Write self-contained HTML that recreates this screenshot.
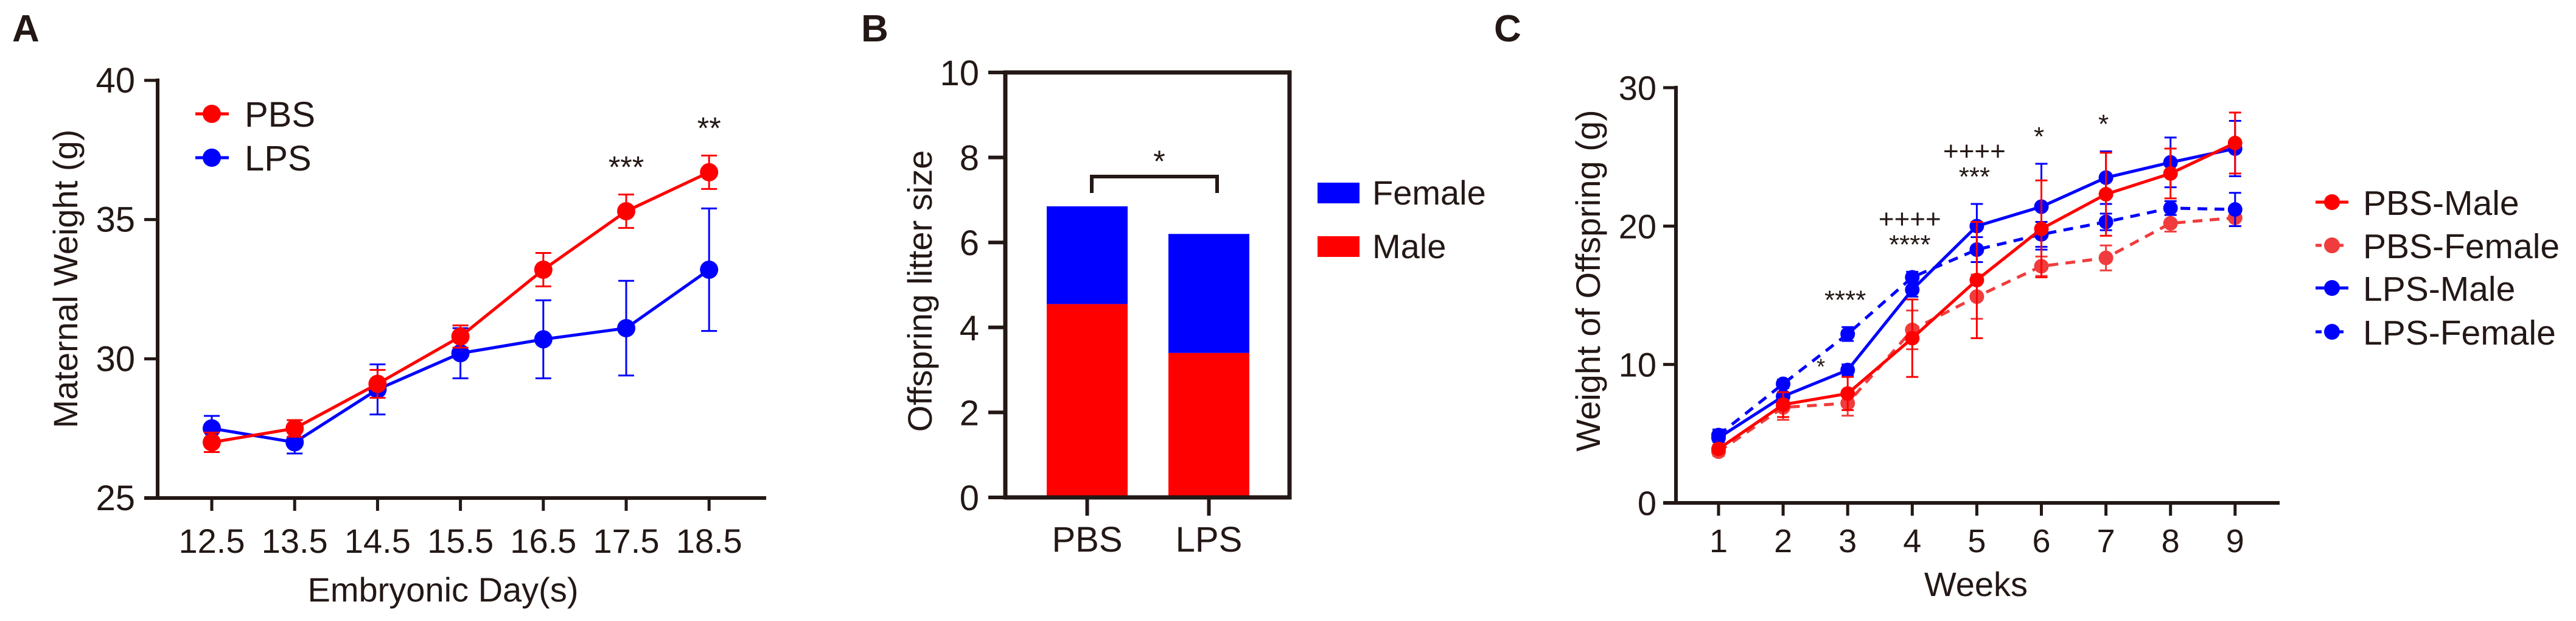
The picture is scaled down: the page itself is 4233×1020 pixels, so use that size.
<!DOCTYPE html>
<html><head><meta charset="utf-8"><style>
html,body{margin:0;padding:0;background:#fff;}
svg{display:block;font-family:"Liberation Sans",Arial,sans-serif;}
</style></head><body>
<svg id="fig" width="4233" height="1020" viewBox="0 0 4233 1020" xmlns="http://www.w3.org/2000/svg">
<text x="20" y="68" font-size="62" font-weight="bold" fill="#231815">A</text>
<text x="1415" y="68" font-size="62" font-weight="bold" fill="#231815">B</text>
<text x="2455" y="68" font-size="62" font-weight="bold" fill="#231815">C</text>
<g id="pa"></g>
<g id="pb"></g>
<g id="pc"></g>
</svg>
<script>
// Panel A data
const aDays = ["12.5","13.5","14.5","15.5","16.5","17.5","18.5"];
const aPBS = [27.0,27.5,29.1,30.8,33.2,35.3,36.7];
const aPBSErr = [0.35,0.3,0.5,0.4,0.6,0.6,0.6];
const aLPS = [27.5,27.0,28.9,30.2,30.7,31.1,33.2];
const aLPSErr = [0.45,0.4,0.9,0.9,1.4,1.7,2.2];
const aYTicks = [25,30,35,40];
const aSig = ["","","","","","***","**"];
// Panel B data
const bGroups = ["PBS","LPS"];
const bMale = [4.55,3.4];
const bFemale = [2.3,2.8];
const bYTicks = [0,2,4,6,8,10];
// Panel C data
const cWeeks = ["1","2","3","4","5","6","7","8","9"];
const cPBSMale = [3.9,7.1,7.9,11.9,16.1,19.8,22.3,23.8,26.0];
const cPBSMaleErr = [0.3,0.9,1.2,2.8,4.2,3.5,3.0,1.8,2.2];
const cPBSFemale = [3.7,6.9,7.2,12.5,14.9,17.1,17.7,20.2,20.6];
const cPBSFemaleErr = [0.3,0.9,0.9,1.4,1.6,0.7,0.9,0.6,0.6];
const cLPSMale = [4.7,7.7,9.6,15.4,20.0,21.4,23.5,24.6,25.6];
const cLPSMaleErr = [0.3,0.3,0.4,0.5,1.6,3.1,1.9,1.8,2.0];
const cLPSFemale = [4.9,8.6,12.2,16.3,18.3,19.4,20.3,21.3,21.2];
const cLPSFemaleErr = [0.4,0.3,0.5,0.4,0.9,0.9,0.6,0.5,1.2];
const cYTicks = [0,10,20,30];
const cSigStar = ["","","****","****","***","*","*","",""];
const cSigPlus = ["","","","++++","++++","","","",""];

const NS="http://www.w3.org/2000/svg";
function mk(parent,tag,attrs,text){const e=document.createElementNS(NS,tag);for(const k in attrs)e.setAttribute(k,attrs[k]);if(text!==undefined)e.textContent=text;parent.appendChild(e);return e;}
const TXT="#231815";

// ---------- Panel A ----------
(function(){
const g=document.getElementById('pa');
const x0=259,yT=132,yB=818,vmin=25,vmax=40;
const y=v=>yB-(v-vmin)/(vmax-vmin)*(yB-yT);
const x=i=>348+i*136.2;
let e;
e=mk(g,'line',{x1:x0,y1:yT-3,x2:x0,y2:yB+3,stroke:TXT,'stroke-width':6});

e=mk(g,'line',{x1:237,y1:yB,x2:1259,y2:yB,stroke:TXT,'stroke-width':6});

aYTicks.forEach(v=>{
 mk(g,'line',{x1:237,y1:y(v),x2:x0,y2:y(v),stroke:TXT,'stroke-width':5});
 e=mk(g,'text',{x:222,y:y(v)+20,'font-size':58,'text-anchor':'end',fill:TXT},String(v));
 
});
aDays.forEach((d,i)=>{
 mk(g,'line',{x1:x(i),y1:yB,x2:x(i),y2:839,stroke:TXT,'stroke-width':5});
 e=mk(g,'text',{x:x(i),y:908,'font-size':56,'text-anchor':'middle',fill:TXT},d);
 
});
e=mk(g,'text',{x:728,y:988,'font-size':56,'text-anchor':'middle',fill:TXT},'Embryonic Day(s)');

e=mk(g,'text',{x:0,y:0,'font-size':56,'text-anchor':'middle',fill:TXT,transform:'translate(127,458) rotate(-90)'},'Maternal Weight (g)');

function series(vals,errs,col,name){
 const pts=vals.map((v,i)=>x(i)+','+y(v)).join(' ');
 e=mk(g,'polyline',{points:pts,fill:'none',stroke:col,'stroke-width':5});
 
 vals.forEach((v,i)=>{
  const t=y(v+errs[i]),b=y(v-errs[i]);
  mk(g,'line',{x1:x(i),y1:t,x2:x(i),y2:b,stroke:col,'stroke-width':3});
  mk(g,'line',{x1:x(i)-13,y1:t,x2:x(i)+13,y2:t,stroke:col,'stroke-width':3});
  mk(g,'line',{x1:x(i)-13,y1:b,x2:x(i)+13,y2:b,stroke:col,'stroke-width':3});
  e=mk(g,'circle',{cx:x(i),cy:y(v),r:15,fill:col});
  
 });
}
series(aLPS,aLPSErr,'#0000ff','a-lps');
series(aPBS,aPBSErr,'#ff0000','a-pbs');
aSig.forEach((s,i)=>{ if(!s)return;
 const top=Math.max(aPBS[i]+aPBSErr[i],aLPS[i]+aLPSErr[i]);
 e=mk(g,'text',{x:x(i),y:y(top)-28,'font-size':50,'text-anchor':'middle',fill:TXT},s);
 
});
[['PBS','#ff0000',187],['LPS','#0000ff',259]].forEach(([l,c,yy])=>{
 e=mk(g,'g',{});
 mk(e,'line',{x1:321,y1:yy,x2:376,y2:yy,stroke:c,'stroke-width':5});
 mk(e,'circle',{cx:348,cy:yy,r:15,fill:c});
 mk(e,'text',{x:402,y:yy+21,'font-size':58,fill:TXT},l);
});
})();

// ---------- Panel B ----------
(function(){
const g=document.getElementById('pb');
const xL=1652,xR=2119,yT=119,yB=817;
const y=v=>yB-v/10*(yB-yT);
const bx=[1720,1920],bw=133;
let e;
bGroups.forEach((n,i)=>{
 e=mk(g,'rect',{x:bx[i],y:y(bMale[i]),width:bw,height:yB-y(bMale[i]),fill:'#ff0000'});
 
 const tot=bMale[i]+bFemale[i];
 e=mk(g,'rect',{x:bx[i],y:y(tot),width:bw,height:y(bMale[i])-y(tot),fill:'#0000ff'});
 
 mk(g,'line',{x1:bx[i]+bw/2,y1:yB,x2:bx[i]+bw/2,y2:847,stroke:TXT,'stroke-width':6});
 e=mk(g,'text',{x:bx[i]+bw/2,y:906,'font-size':58,'text-anchor':'middle',fill:TXT},n);
 
});
e=mk(g,'rect',{x:xL,y:yT,width:xR-xL,height:yB-yT,fill:'none',stroke:TXT,'stroke-width':7});

bYTicks.forEach(v=>{
 mk(g,'line',{x1:1624,y1:y(v),x2:xL,y2:y(v),stroke:TXT,'stroke-width':6});
 e=mk(g,'text',{x:1609,y:y(v)+21,'font-size':58,'text-anchor':'end',fill:TXT},String(v));
 
});
e=mk(g,'text',{x:0,y:0,'font-size':56,'text-anchor':'middle',fill:TXT,transform:'translate(1531,478) rotate(-90)'},'Offspring litter size');

const by=y(Math.max(bMale[0]+bFemale[0],bMale[1]+bFemale[1])+0.7);
e=mk(g,'polyline',{points:`1794,317 1794,${by} 2000,${by} 2000,317`,fill:'none',stroke:TXT,'stroke-width':6});

e=mk(g,'text',{x:1905,y:by-8,'font-size':50,'text-anchor':'middle',fill:TXT},'*');

[['Female','#0000ff',300],['Male','#ff0000',388]].forEach(([l,c,yy])=>{
 e=mk(g,'g',{});
 mk(e,'rect',{x:2165,y:yy,width:69,height:34,fill:c});
 mk(e,'text',{x:2255,y:yy+36,'font-size':56,fill:TXT},l);
});
})();

// ---------- Panel C ----------
(function(){
const g=document.getElementById('pc');
const x0=2754,yT=144,yB=826;
const y=v=>yB-v/30*(yB-yT);
const x=i=>2824+i*106.1;
let e;
e=mk(g,'line',{x1:x0,y1:yT-3,x2:x0,y2:yB+3,stroke:TXT,'stroke-width':6});

e=mk(g,'line',{x1:2733,y1:yB,x2:3746,y2:yB,stroke:TXT,'stroke-width':6});

cYTicks.forEach(v=>{
 mk(g,'line',{x1:2733,y1:y(v),x2:x0,y2:y(v),stroke:TXT,'stroke-width':5});
 e=mk(g,'text',{x:2722,y:y(v)+20,'font-size':56,'text-anchor':'end',fill:TXT},String(v));
 
});
cWeeks.forEach((w,i)=>{
 mk(g,'line',{x1:x(i),y1:yB,x2:x(i),y2:847,stroke:TXT,'stroke-width':5});
 e=mk(g,'text',{x:x(i),y:907,'font-size':54,'text-anchor':'middle',fill:TXT},w);
 
});
e=mk(g,'text',{x:3247,y:979,'font-size':56,'text-anchor':'middle',fill:TXT},'Weeks');

e=mk(g,'text',{x:0,y:0,'font-size':56,'text-anchor':'middle',fill:TXT,transform:'translate(2629,461) rotate(-90)'},'Weight of Offspring (g)');

function series(vals,errs,col,dash,name){
 const pts=vals.map((v,i)=>x(i)+','+y(v)).join(' ');
 const a={points:pts,fill:'none',stroke:col,'stroke-width':5};
 if(dash)a['stroke-dasharray']='16,12';
 e=mk(g,'polyline',a);
 
 vals.forEach((v,i)=>{
  const t=y(v+errs[i]),b=y(v-errs[i]);
  mk(g,'line',{x1:x(i),y1:t,x2:x(i),y2:b,stroke:col,'stroke-width':3});
  mk(g,'line',{x1:x(i)-10,y1:t,x2:x(i)+10,y2:t,stroke:col,'stroke-width':3});
  mk(g,'line',{x1:x(i)-10,y1:b,x2:x(i)+10,y2:b,stroke:col,'stroke-width':3});
  e=mk(g,'circle',{cx:x(i),cy:y(v),r:12,fill:col});
  
 });
}
series(cPBSFemale,cPBSFemaleErr,'#f03c3c',true,'c-pbs-female');
series(cLPSFemale,cLPSFemaleErr,'#0000ff',true,'c-lps-female');
series(cLPSMale,cLPSMaleErr,'#0000ff',false,'c-lps-male');
series(cPBSMale,cPBSMaleErr,'#ff0000',false,'c-pbs-male');
cSigStar.forEach((s,i)=>{ if(!s)return;
 const top=Math.max(cLPSMale[i]+cLPSMaleErr[i],cLPSFemale[i]+cLPSFemaleErr[i],cPBSMale[i]+cPBSMaleErr[i]);
 const yy=y(top)-30;
 e=mk(g,'text',{x:x(i)-4,y:yy,'font-size':44,'text-anchor':'middle',fill:TXT},s);
 
 if(cSigPlus[i]){
  e=mk(g,'text',{x:x(i)-4,y:yy-42,'font-size':44,'text-anchor':'middle',fill:TXT},cSigPlus[i]);
  
 }
});
e=mk(g,'text',{x:x(1)+62,y:y(9.3),'font-size':36,'text-anchor':'middle',fill:TXT},'*');

[['PBS-Male','#ff0000',false,332],['PBS-Female','#f03c3c',true,403],['LPS-Male','#0000ff',false,473],['LPS-Female','#0000ff',true,545]].forEach(([l,c,d,yy])=>{
 e=mk(g,'g',{});
 const a={x1:3805,y1:yy,x2:3859,y2:yy,stroke:c,'stroke-width':5};
 if(d)a['stroke-dasharray']='10,8';
 mk(e,'line',a);
 mk(e,'circle',{cx:3832,cy:yy,r:13,fill:c});
 mk(e,'text',{x:3883,y:yy+21,'font-size':57,fill:TXT},l);
});
})();
</script>
</body></html>
